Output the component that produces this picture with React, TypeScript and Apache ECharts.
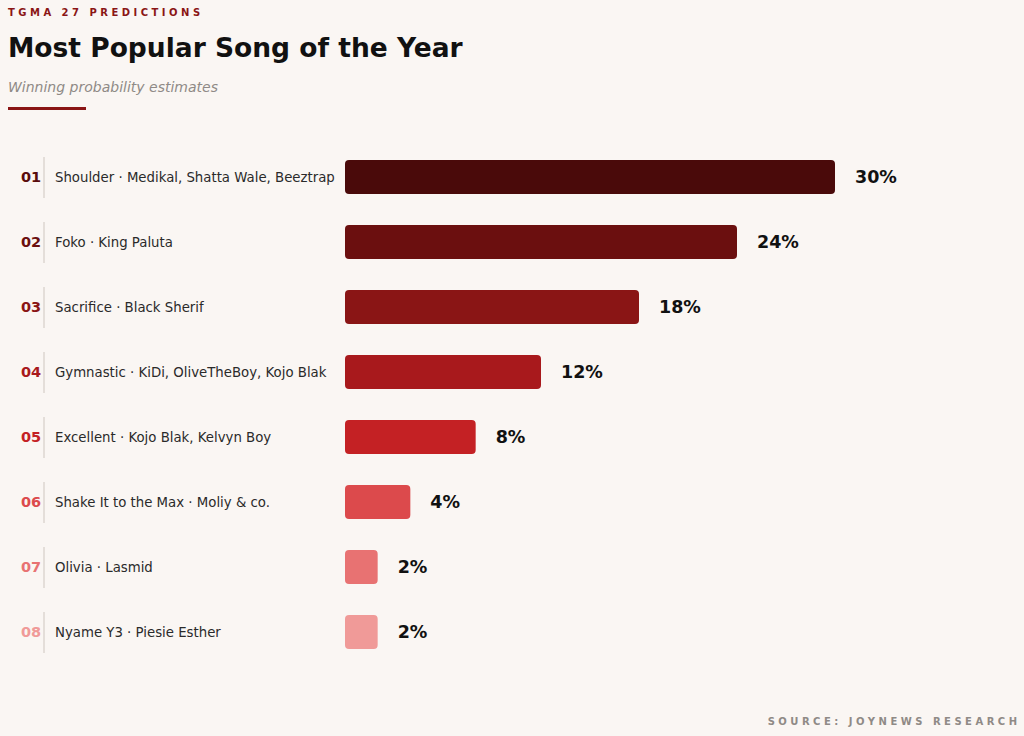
import { useEffect, useRef } from 'react';
import * as echarts from 'echarts';

const ranks = ['01', '02', '03', '04', '05', '06', '07', '08'];
const songs = [
  'Shoulder · Medikal, Shatta Wale, Beeztrap',
  'Foko · King Paluta',
  'Sacrifice · Black Sherif',
  'Gymnastic · KiDi, OliveTheBoy, Kojo Blak',
  'Excellent · Kojo Blak, Kelvyn Boy',
  'Shake It to the Max · Moliy & co.',
  'Olivia · Lasmid',
  'Nyame Y3 · Piesie Esther'
];
const probabilities = [30, 24, 18, 12, 8, 4, 2, 2];
const barColors = ['#4a0a0a', '#6b0f0f', '#8a1515', '#a8191c', '#c42124', '#dc4a4c', '#e87272', '#f09a98'];

// fake letter spacing: space between letters, wider gap between words
const spaced = (s: string) => s.split(' ').map((w) => w.split('').join(' ')).join('   ');
const FONT = 'DejaVu Sans';

export default function App() {
  const ref = useRef<HTMLDivElement>(null);

  useEffect(() => {
    if (!ref.current) return undefined;
    const chart = echarts.init(ref.current, null, { renderer: 'svg' });

    const rich: Record<string, object> = {
      name: { fontSize: 13.3, color: '#2a2a2a', fontFamily: FONT, padding: [0, 0, 0, 14] }
    };
    barColors.forEach((c, i) => {
      rich['r' + i] = { fontSize: 14.5, fontWeight: 'bold', color: i === 0 ? '#5a0c0c' : c, fontFamily: FONT, width: 20, align: 'right' };
    });

    const sepLines = ranks.map((_, i) => ({
      type: 'line',
      shape: { x1: 44, y1: 157 + i * 65, x2: 44, y2: 198 + i * 65 },
      style: { stroke: '#ddd6d0', lineWidth: 1.5 }
    }));

    chart.setOption({
      animation: false,
      backgroundColor: '#faf6f3',
      textStyle: { fontFamily: FONT },
      grid: { left: 345, top: 144.5, width: 490, height: 520 },
      xAxis: { type: 'value', min: 0, max: 30, show: false },
      yAxis: {
        type: 'category',
        inverse: true,
        data: songs,
        axisLine: { show: false },
        axisTick: { show: false },
        axisLabel: {
          align: 'left',
          margin: 324,
          formatter: (v: string, i: number) => `{r${i}|${ranks[i]}}{name|${v}}`,
          rich
        }
      },
      graphic: [
        { type: 'text', left: 8, top: 7, style: { text: spaced('TGMA 27 PREDICTIONS'), fill: '#8a1515', font: `bold 10px "${FONT}"` } },
        { type: 'text', left: 8, top: 34, style: { text: 'Most Popular Song of the Year', fill: '#111', font: `bold 26.5px "${FONT}"` } },
        { type: 'text', left: 8, top: 80, style: { text: 'Winning probability estimates', fill: '#8f8a86', font: `italic 14px "${FONT}"` } },
        { type: 'rect', shape: { x: 8, y: 107, width: 78, height: 3 }, style: { fill: '#8a1515' } },
        { type: 'text', right: 7, top: 716, style: { text: spaced('SOURCE: JOYNEWS RESEARCH'), fill: '#8f8a86', font: `bold 10px "${FONT}"` } },
        ...sepLines
      ],
      series: [
        {
          type: 'bar',
          barWidth: 34,
          data: probabilities.map((v, i) => ({ value: v, itemStyle: { color: barColors[i], borderRadius: 4 } })),
          label: {
            show: true,
            position: 'right',
            distance: 20,
            formatter: '{c}%',
            fontSize: 17.5,
            fontWeight: 'bold',
            color: '#111',
            fontFamily: FONT
          }
        }
      ]
    });

    return () => chart.dispose();
  }, []);

  return <div ref={ref} style={{ position: 'absolute', left: 0, top: 0, width: 1024, height: 736 }} />;
}
